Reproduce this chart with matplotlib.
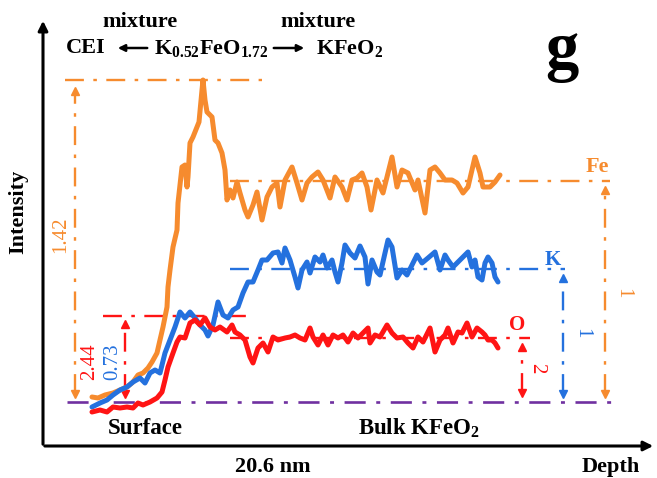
import matplotlib.pyplot as plt

plt.rcParams['font.family'] = ['Liberation Serif', 'DejaVu Serif']
plt.rcParams['font.weight'] = 'bold'
plt.rcParams['mathtext.fontset'] = 'custom'
plt.rcParams['mathtext.rm'] = 'Liberation Serif:bold'
plt.rcParams['mathtext.it'] = 'Liberation Serif:bold'
plt.rcParams['mathtext.bf'] = 'Liberation Serif:bold'

# depth profiles (depth in a.u., intensity above the surface baseline, a.u.)
fe_depth = [92, 98, 105, 113, 120, 127, 133, 138, 143, 148, 152, 157, 160, 163, 167, 168, 170, 173,
            177, 178, 182, 185, 187, 188, 190, 193, 197, 199, 202, 203, 205, 207, 212, 215, 218, 222,
            225, 227, 230, 233, 237, 240, 245, 248, 253, 257, 262, 267, 272, 277, 280, 285, 292, 297,
            302, 307, 312, 318, 323, 330, 335, 342, 347, 352, 357, 362, 367, 371, 377, 383, 392, 397,
            402, 408, 415, 418, 425, 430, 435, 440, 445, 452, 457, 463, 468, 475, 480, 483, 490, 495, 500]
fe_int = [5, 4, 7, 9, 12, 15, 20, 27, 29, 34, 40, 49, 62, 75, 95, 115, 132, 155,
          172, 199, 235, 237, 215, 225, 259, 265, 275, 280, 312, 322, 302, 290, 285, 262, 259, 249,
          232, 202, 212, 204, 220, 209, 192, 185, 197, 210, 182, 205, 215, 219, 195, 222, 235, 219,
          202, 219, 225, 230, 222, 204, 225, 215, 202, 222, 224, 229, 215, 192, 222, 209, 245, 215,
          232, 229, 212, 222, 189, 232, 235, 229, 222, 222, 219, 209, 215, 245, 229, 215, 215, 220, 227]

k_depth = [92, 100, 107, 113, 120, 127, 133, 140, 145, 150, 155, 160, 165, 170, 175, 180, 185, 190,
           195, 200, 205, 208, 213, 218, 223, 228, 233, 238, 243, 248, 253, 258, 262, 267, 273, 278,
           282, 285, 290, 295, 298, 302, 307, 310, 315, 320, 323, 327, 332, 335, 338, 342, 345, 350,
           355, 360, 365, 368, 372, 377, 380, 385, 388, 392, 397, 402, 407, 412, 417, 422, 428, 435,
           440, 445, 448, 453, 458, 463, 468, 472, 475, 478, 482, 485, 488, 492, 495, 498]
k_int = [-5, -1, 2, 7, 12, 15, 20, 24, 19, 29, 32, 29, 49, 62, 75, 90, 84, 90,
         84, 77, 72, 66, 77, 100, 87, 84, 92, 95, 109, 120, 120, 132, 142, 142, 149, 150,
         139, 154, 142, 125, 114, 132, 140, 129, 145, 140, 147, 134, 142, 130, 120, 139, 157, 149,
         144, 156, 145, 118, 142, 130, 127, 149, 162, 155, 124, 132, 127, 137, 147, 139, 144, 150,
         132, 147, 142, 135, 140, 145, 150, 135, 142, 125, 122, 139, 145, 139, 125, 120]

o_depth = [92, 100, 107, 113, 120, 127, 133, 138, 143, 150, 157, 162, 165, 168, 173, 177, 180, 185,
           190, 195, 200, 205, 210, 215, 220, 227, 232, 235, 240, 245, 250, 253, 258, 263, 268, 273,
           278, 285, 290, 295, 300, 305, 310, 313, 318, 323, 328, 333, 338, 343, 348, 353, 358, 363,
           368, 370, 375, 380, 387, 392, 397, 403, 408, 413, 418, 423, 430, 435, 440, 445, 448, 453,
           458, 462, 467, 472, 477, 482, 485, 488, 492, 495, 498]
o_int = [-10, -8, -10, -5, -6, -5, -6, -1, -3, 0, 4, 10, 22, 35, 49, 60, 65, 64,
         79, 82, 77, 84, 75, 72, 75, 70, 77, 70, 67, 62, 45, 39, 54, 59, 50, 65,
         62, 64, 65, 67, 64, 62, 74, 65, 57, 67, 57, 67, 64, 67, 60, 69, 64, 69,
         74, 59, 67, 65, 77, 69, 64, 65, 59, 54, 65, 60, 74, 50, 62, 67, 74, 59,
         70, 69, 79, 65, 74, 70, 67, 62, 62, 59, 54]

# reference levels
fe_bulk, fe_peak = 221, 322
k_bulk, o_bulk, o_top = 133, 64, 86

orange = '#F68B2E'
blue = '#2471DE'
red = '#FF1414'
purple = '#7030A0'
dd = (8, 4, 1.5, 4)

fig = plt.figure(figsize=(6.57, 4.78), dpi=100)
ax = fig.add_axes([0, 0, 1, 1])
ax.set_xlim(0, 657)
ax.set_ylim(-76, 402)
ax.axis('off')

# axes arrows
ax.annotate('', xy=(43, 384), xytext=(43, -45),
            arrowprops=dict(arrowstyle='-|>', lw=2.2, color='black', mutation_scale=14))
ax.annotate('', xy=(656, -44), xytext=(42, -44),
            arrowprops=dict(arrowstyle='-|>', lw=2.2, color='black', mutation_scale=14))

# dash-dot guide lines
ax.plot([65, 262], [fe_peak, fe_peak], color=orange, lw=1.7, dashes=dd)
ax.plot([230, 610], [fe_bulk, fe_bulk], color=orange, lw=1.7, dashes=dd)
ax.plot([230, 565], [k_bulk, k_bulk], color=blue, lw=1.7, dashes=dd)
ax.plot([103, 255], [o_top, o_top], color=red, lw=1.7, dashes=dd)
ax.plot([230, 530], [o_bulk, o_bulk], color=red, lw=1.7, dashes=dd)
ax.plot([67, 615], [0, 0], color=purple, lw=1.9, dashes=dd)

# vertical double arrows
def varrow(x, top, bottom, c):
    ax.plot([x, x], [bottom + 4, top - 4], color=c, lw=1.7, dashes=dd)
    ax.plot([x], [top - 3], marker='^', ms=6, color=c, lw=0)
    ax.plot([x], [bottom + 3], marker='v', ms=6, color=c, lw=0)

varrow(75, fe_peak - 8, 5, orange)
varrow(605, fe_bulk - 6, 5, orange)
varrow(563, k_bulk - 6, 5, blue)
varrow(125, o_top - 5, 5, red)
varrow(522, o_bulk - 6, 6, red)

# profiles
ax.plot(fe_depth, fe_int, color=orange, lw=3.6, solid_joinstyle='round', solid_capstyle='round')
ax.plot(k_depth, k_int, color=blue, lw=3.6, solid_joinstyle='round', solid_capstyle='round')
ax.plot(o_depth, o_int, color=red, lw=3.6, solid_joinstyle='round', solid_capstyle='round')

# labels
ax.text(597, 235, 'Fe', color=orange, fontsize=16, ha='center', va='center')
ax.text(553, 142, 'K', color=blue, fontsize=15, ha='center', va='center')
ax.text(517, 77, 'O', color=red, fontsize=15, ha='center', va='center')
ax.text(61, 167, '1.42', color=orange, fontsize=15, weight='normal', rotation=90, ha='center', va='center')
ax.text(90, 40, '2.44', color=red, fontsize=15, weight='normal', rotation=90, ha='center', va='center')
ax.text(113, 40, '0.73', color=blue, fontsize=15, weight='normal', rotation=90, ha='center', va='center')
ax.text(623, 109, '1', color=orange, fontsize=15, weight='normal', rotation=-90, ha='center', va='center')
ax.text(582, 69, '1', color=blue, fontsize=15, weight='normal', rotation=-90, ha='center', va='center')
ax.text(537, 34, '2', color=red, fontsize=15, weight='normal', rotation=-90, ha='center', va='center')

ax.text(140, 380, 'mixture', fontsize=16, ha='center', va='center')
ax.text(318, 380, 'mixture', fontsize=16, ha='center', va='center')
ax.text(86, 354, 'CEI', fontsize=16, ha='center', va='center')
ax.text(211, 354, 'K$_{0.52}$FeO$_{1.72}$', fontsize=16, ha='center', va='center')
ax.text(350, 354, 'KFeO$_2$', fontsize=16, ha='center', va='center')
ax.annotate('', xy=(115, 354), xytext=(150, 354),
            arrowprops=dict(arrowstyle='-|>', lw=1.8, color='black', mutation_scale=10))
ax.annotate('', xy=(307, 354), xytext=(271, 354),
            arrowprops=dict(arrowstyle='-|>', lw=1.8, color='black', mutation_scale=10))
ax.text(562, 350, 'g', fontsize=48, ha='center', va='center')

ax.text(18, 190, 'Intensity', fontsize=16, rotation=90, ha='center', va='center')
ax.text(145, -26, 'Surface', fontsize=16.5, ha='center', va='center')
ax.text(419, -26, 'Bulk KFeO$_2$', fontsize=16.5, ha='center', va='center')
ax.text(273, -65, '20.6 nm', fontsize=16, ha='center', va='center')
ax.text(611, -65, 'Depth', fontsize=16, ha='center', va='center')

fig.savefig('out.png', dpi=100)
